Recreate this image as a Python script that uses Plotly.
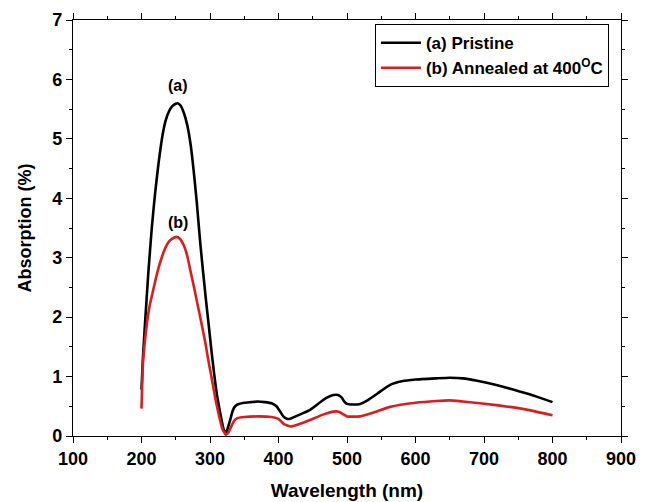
import plotly.graph_objects as go

# Pristine (a)
wl_a = [200, 202, 205, 210, 215, 220, 225, 231, 235, 240, 245, 250, 253, 257, 262, 267,
        272, 276, 280, 283, 286, 290, 294, 298, 302, 306, 310, 315, 319, 322, 325, 329,
        333, 336, 340, 350, 360, 370, 380, 390, 397, 402, 407, 412, 417, 425, 435, 446,
        460, 470, 480, 487, 492, 496, 500, 510, 519, 530, 545, 563, 580, 600, 631, 650,
        669, 690, 718, 740, 764, 780, 800]
ab_a = [0.78, 1.3, 1.87, 2.75, 3.5, 4.1, 4.6, 5.08, 5.3, 5.46, 5.55, 5.59, 5.6, 5.56, 5.43, 5.22,
        4.88, 4.48, 4.02, 3.62, 3.22, 2.75, 2.3, 1.88, 1.45, 1.05, 0.7, 0.38, 0.15, 0.05, 0.1, 0.25,
        0.42, 0.49, 0.53, 0.56, 0.57, 0.58, 0.57, 0.55, 0.5, 0.42, 0.33, 0.29, 0.29, 0.33, 0.38, 0.44,
        0.56, 0.64, 0.69, 0.69, 0.65, 0.58, 0.54, 0.53, 0.54, 0.6, 0.72, 0.86, 0.92, 0.95, 0.97, 0.98,
        0.97, 0.93, 0.86, 0.79, 0.71, 0.65, 0.57]

# Annealed at 400 C (b)
wl_b = [200, 202, 205, 208, 212, 217, 223, 230, 235, 240, 245, 251, 256, 262, 267, 272,
        278, 283, 288, 293, 297, 302, 308, 313, 318, 323, 327, 331, 335, 340, 350, 370,
        390, 400, 408, 418, 430, 446, 465, 480, 488, 494, 500, 519, 540, 563, 600, 631,
        650, 669, 718, 764, 800]
ab_b = [0.46, 1.2, 1.6, 1.9, 2.2, 2.45, 2.75, 3.02, 3.17, 3.27, 3.32, 3.35, 3.32, 3.2, 3.02, 2.75,
        2.43, 2.15, 1.87, 1.58, 1.31, 1.0, 0.62, 0.35, 0.12, 0.02, 0.06, 0.16, 0.25, 0.3, 0.32, 0.33,
        0.32, 0.29, 0.2, 0.16, 0.2, 0.27, 0.36, 0.41, 0.41, 0.37, 0.33, 0.33, 0.4, 0.49, 0.56, 0.59,
        0.6, 0.58, 0.52, 0.44, 0.35]

names = ["<b>(a) Pristine</b>", "<b>(b) Annealed at 400<sup>O</sup>C</b>"]
x_ticks = [100, 200, 300, 400, 500, 600, 700, 800, 900]
y_ticks = [0, 1, 2, 3, 4, 5, 6, 7]
labels = ["<b>(a)</b>", "<b>(b)</b>"]
label_pos = [(253, 5.9), (253, 3.6)]

FONT = "Liberation Sans, Arial, sans-serif"

fig = go.Figure()
fig.add_trace(go.Scatter(x=wl_a, y=ab_a, mode="lines", name=names[0],
                         line=dict(color="#000000", width=2.6, shape="spline", smoothing=0.4)))
fig.add_trace(go.Scatter(x=wl_b, y=ab_b, mode="lines", name=names[1],
                         line=dict(color="#d81e1e", width=2.6, shape="spline", smoothing=0.4)))

for t, (xx, yy) in zip(labels, label_pos):
    fig.add_annotation(x=xx, y=yy, text=t, showarrow=False,
                       font=dict(family=FONT, size=16, color="#000"))

axis_common = dict(showgrid=False, zeroline=False, showline=True, linecolor="#000",
                   linewidth=1.2, mirror="ticks", ticks="outside", ticklen=6,
                   tickcolor="#000", tickwidth=1.2, automargin=False,
                   tickfont=dict(family=FONT, size=18, color="#000", weight="bold"))

fig.update_xaxes(range=[100, 900], tickvals=x_ticks, ticktext=[str(v) for v in x_ticks],
                 minor=dict(dtick=50, ticks="outside", ticklen=3, tickcolor="#000", tickwidth=1),
                 title=dict(text="<b>Wavelength (nm)</b>", font=dict(family=FONT, size=19, color="#000")),
                 **axis_common)
fig.update_yaxes(range=[0, 7], tickvals=y_ticks, ticktext=[str(v) for v in y_ticks],
                 minor=dict(dtick=0.5, ticks="outside", ticklen=3, tickcolor="#000", tickwidth=1),
                 title=dict(text="<b>Absorption (%)</b>", font=dict(family=FONT, size=18, color="#000")),
                 **axis_common)

fig.update_layout(
    width=654, height=502,
    margin=dict(l=65, r=41, t=12, b=74),
    plot_bgcolor="white", paper_bgcolor="white",
    showlegend=True,
    legend=dict(x=0.978, y=0.99, xanchor="right", yanchor="top",
                bordercolor="#000", borderwidth=1, bgcolor="white",
                font=dict(family=FONT, size=17, color="#000"),
                tracegroupgap=0, itemwidth=40),
)

fig.write_html("out.html")
